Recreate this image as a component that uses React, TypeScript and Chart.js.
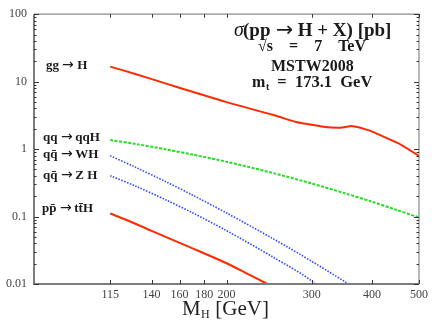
import React, { useEffect, useRef } from 'react';
import { Chart, registerables } from 'chart.js';
Chart.register(...registerables);

// ---- data (cross sections in pb vs Higgs mass in GeV) ----
const ggMass = [115, 130, 150, 170, 200, 250, 280, 300, 320, 340, 350, 360, 370, 380, 400, 430, 460, 500];
const ggXsec = [16.7, 12.9, 9.36, 7.08, 4.97, 3.2, 2.5, 2.3, 2.12, 2.07, 2.11, 2.19, 2.15, 2.05, 1.82, 1.44, 1.15, 0.79];

const vbfMass = [115, 130, 150, 170, 200, 250, 300, 350, 400, 450, 500];
const vbfXsec = [1.36, 1.19, 0.99, 0.83, 0.65, 0.44, 0.309, 0.223, 0.166, 0.125, 0.097];

const whMass = [115, 130, 150, 170, 200, 250, 300, 350, 400];
const whXsec = [0.795, 0.534, 0.327, 0.209, 0.113, 0.0467, 0.0217, 0.011, 0.006];

const zhMass = [115, 130, 150, 170, 200, 250, 300, 350];
const zhXsec = [0.404, 0.281, 0.176, 0.114, 0.0618, 0.0249, 0.0111, 0.004];

const tthMass = [115, 130, 140, 160, 180, 200, 220, 250];
const tthXsec = [0.111, 0.0775, 0.0612, 0.0408, 0.0283, 0.0203, 0.0144, 0.009];

const xTickValues = [115, 140, 160, 180, 200, 300, 400, 500];
const yDecades = [0.01, 0.1, 1, 10, 100];
const yDecadeLabels = ['0.01', '0.1', '1', '10', '100'];

const processLabels = ['gg \u2192 H', 'qq \u2192 qqH', 'qq\u0304 \u2192 WH', 'qq\u0304 \u2192 Z H', 'pp\u0304 \u2192 tt\u0304H'];

const SERIF = '"Liberation Serif", "DejaVu Serif", serif';
const ARROWFONT = '"DejaVu Sans", sans-serif';

type Seg = { t: string; size: number; bold?: boolean; italic?: boolean; dy?: number; family?: string };

function segFont(s: Seg) {
  return `${s.italic ? 'italic ' : ''}${s.bold ? 'bold ' : ''}${s.size}px ${s.family || SERIF}`;
}

// split a string so that the arrow is drawn with a font that centres it on the math axis
function withArrow(t: string, size: number, bold: boolean): Seg[] {
  const parts = t.split('\u2192');
  const out: Seg[] = [];
  parts.forEach((p, i) => {
    if (i > 0) out.push({ t: '\u2192', size: size * 1.08, family: ARROWFONT, dy: 0 });
    if (p) out.push({ t: p, size, bold });
  });
  return out;
}

function drawSegs(ctx: CanvasRenderingContext2D, segs: Seg[], x: number, y: number, align: 'center' | 'left') {
  let w = 0;
  for (const s of segs) {
    ctx.font = segFont(s);
    w += ctx.measureText(s.t).width;
  }
  let cx = align === 'center' ? x - w / 2 : x;
  ctx.textAlign = 'left';
  ctx.textBaseline = 'alphabetic';
  for (const s of segs) {
    ctx.font = segFont(s);
    ctx.fillText(s.t, Math.round(cx), Math.round(y + (s.dy || 0)));
    cx += ctx.measureText(s.t).width;
  }
}

const toPts = (m: number[], v: number[]) => m.map((x, i) => ({ x, y: v[i] }));

const framePlugin = {
  id: 'frameAndText',
  afterDraw(chart: any) {
    const { ctx, chartArea: a, scales } = chart;
    const xs = scales.x;
    const ys = scales.y;
    ctx.save();
    // frame
    ctx.strokeStyle = '#7c7c7c';
    ctx.lineWidth = 2;
    ctx.beginPath();
    ctx.moveTo(a.left, a.top);
    ctx.lineTo(a.left, a.bottom);
    ctx.lineTo(a.right, a.bottom);
    ctx.stroke();
    ctx.lineWidth = 1.2;
    ctx.strokeStyle = '#8a8a8a';
    ctx.beginPath();
    ctx.moveTo(a.left, a.top);
    ctx.lineTo(a.right, a.top);
    ctx.lineTo(a.right, a.bottom);
    ctx.stroke();

    // ticks
    ctx.strokeStyle = '#333';
    ctx.lineWidth = 1;
    ctx.beginPath();
    for (const v of xTickValues) {
      const px = Math.round(xs.getPixelForValue(v)) + 0.5;
      ctx.moveTo(px, a.bottom);
      ctx.lineTo(px, a.bottom - 4);
      ctx.moveTo(px, a.top);
      ctx.lineTo(px, a.top + 3.5);
    }
    for (let d = 0; d < yDecades.length; d++) {
      const base = yDecades[d];
      for (let k = 1; k <= 9; k++) {
        const v = base * k;
        if (v > 100.0001) break;
        const py = Math.round(ys.getPixelForValue(v)) + 0.5;
        const len = k === 1 ? 5 : 2.5;
        ctx.moveTo(a.left, py);
        ctx.lineTo(a.left + len, py);
        ctx.moveTo(a.right, py);
        ctx.lineTo(a.right - len, py);
      }
    }
    ctx.stroke();

    // process labels
    ctx.fillStyle = '#1a1a1a';
    const firsts = [ggXsec[0], vbfXsec[0], whXsec[0], zhXsec[0], tthXsec[0]];
    const dx = [12, 9, 9, 9, 8];
    const dyy = [2, 1, 2.4, 3.4, -1.7];
    processLabels.forEach((t, i) => {
      const py = ys.getPixelForValue(firsts[i]) + dyy[i];
      drawSegs(ctx, withArrow(t, 13, true), a.left + dx[i], py, 'left');
    });

    // annotation block
    const cx = a.left + (a.right - a.left) * 0.723;
    drawSegs(ctx, [
      { t: '\u03c3', size: 20, italic: true },
      ...withArrow('(pp \u2192 H + X) [pb]', 19, true),
    ], cx, a.top + 21.3, 'center');
    drawSegs(ctx, [{ t: '\u221as\u2003=\u20037\u2003TeV', size: 16, bold: true }], cx, a.top + 36.7, 'center');
    drawSegs(ctx, [{ t: 'MSTW2008', size: 16, bold: true }], cx, a.top + 56.7, 'center');
    drawSegs(ctx, [
      { t: 'm', size: 16, bold: true },
      { t: 't', size: 10, bold: true, dy: 3 },
      { t: '\u2002=\u2002173.1\u2002GeV', size: 16.5, bold: true },
    ], cx, a.top + 72.3, 'center');

    // x-axis title
    ctx.fillStyle = '#222';
    drawSegs(ctx, [
      { t: 'M', size: 21 },
      { t: 'H', size: 12, dy: 3 },
      { t: ' [GeV]', size: 21 },
    ], (a.left + a.right) / 2 - 1, a.bottom + 31, 'center');
    ctx.restore();
  },
};

export default function App() {
  const ref = useRef<HTMLCanvasElement | null>(null);
  useEffect(() => {
    if (!ref.current) return;
    const chart = new Chart(ref.current, {
      type: 'line',
      data: {
        datasets: [
          { label: 'gg→H', data: toPts(ggMass, ggXsec), borderColor: '#ff2a00', borderWidth: 2, pointRadius: 0, tension: 0.3 },
          { label: 'qq→qqH', data: toPts(vbfMass, vbfXsec), borderColor: '#22dd22', borderWidth: 2, borderDash: [3, 1.5], pointRadius: 0, tension: 0.3 },
          { label: 'qq̄→WH', data: toPts(whMass, whXsec), borderColor: '#2a48ff', borderWidth: 1.6, borderDash: [1.5, 1.5], pointRadius: 0, tension: 0.3 },
          { label: 'qq̄→ZH', data: toPts(zhMass, zhXsec), borderColor: '#2a48ff', borderWidth: 1.6, borderDash: [1.5, 1.5], pointRadius: 0, tension: 0.3 },
          { label: 'pp̄→tt̄H', data: toPts(tthMass, tthXsec), borderColor: '#ff2a00', borderWidth: 2, pointRadius: 0, tension: 0.3 },
        ],
      },
      options: {
        responsive: false,
        animation: false,
        parsing: true,
        layout: { padding: { top: 11, right: 17, left: 0, bottom: 0 } },
        plugins: { legend: { display: false }, tooltip: { enabled: false } },
        scales: {
          x: {
            type: 'logarithmic',
            min: 80,
            max: 500,
            afterBuildTicks: (s: any) => { s.ticks = xTickValues.map((v) => ({ value: v })); },
            afterFit: (s: any) => { s.height = 37; },
            grid: { display: false, drawTicks: false },
            border: { display: false },
            ticks: {
              autoSkip: false,
              maxRotation: 0,
              padding: 4,
              color: '#444',
              font: { family: SERIF, size: 12 },
              callback: (v: any) => String(v),
            },
          },
          y: {
            type: 'logarithmic',
            min: 0.01,
            max: 100,
            afterBuildTicks: (s: any) => { s.ticks = yDecades.map((v) => ({ value: v })); },
            afterFit: (s: any) => { s.width = 34; },
            grid: { display: false, drawTicks: false },
            border: { display: false },
            ticks: {
              autoSkip: false,
              padding: 7,
              color: '#444',
              font: { family: SERIF, size: 12 },
              callback: (v: any) => {
                const i = yDecades.findIndex((d) => Math.abs(d - v) / d < 1e-6);
                return i >= 0 ? yDecadeLabels[i] : '';
              },
            },
          },
        },
      },
      plugins: [framePlugin],
    } as any);
    return () => chart.destroy();
  }, []);
  return (
    <div style={{ position: 'fixed', left: 0, top: 0, width: 436, height: 321, background: '#fff' }}>
      <canvas ref={ref} width={436} height={321} style={{ display: 'block' }} />
    </div>
  );
}
